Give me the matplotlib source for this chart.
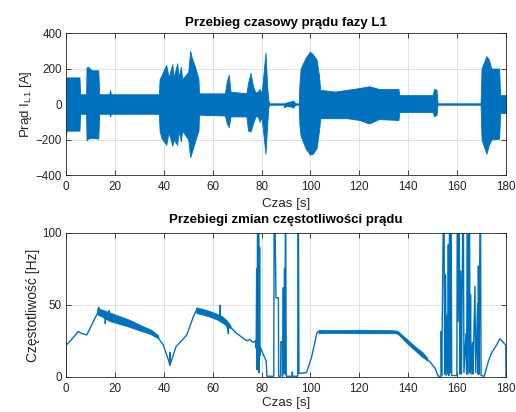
import numpy as np
import matplotlib
matplotlib.use("Agg")
import matplotlib.pyplot as plt

plt.rcParams['font.family'] = ['Liberation Sans', 'DejaVu Sans']
plt.rcParams['mathtext.default'] = 'regular'

BLUE = '#0072BD'
AXC = '#262626'

# --- Phase current L1: envelope of the oscillating signal (time [s], upper/lower [A]) ---
env_t = [0.0, 0.3, 5.5, 5.8, 8.2, 8.4, 9.0, 10.5, 13.2, 13.6, 17.7, 18.0, 18.4,
         38.0, 38.3, 39.0, 41.0, 42.0, 43.5, 44.0, 45.5, 46.0, 47.0, 47.5, 50.0,
         50.8, 51.5, 53.0, 54.2, 54.4, 65.0, 65.8, 66.6, 67.3, 73.8, 74.5, 75.5,
         76.5, 77.5, 78.5, 79.2, 80.0, 81.0, 81.6, 82.3, 82.8, 83.2, 89.0, 89.3,
         90.0, 92.0, 93.0, 93.8, 95.2, 95.5, 96.0, 98.0, 99.8, 101.0, 102.5, 103.5,
         104.0, 110.0, 115.0, 120.0, 124.0, 128.0, 136.0, 136.4, 150.0, 150.6,
         151.6, 152.0, 169.6, 170.0, 172.0, 173.0, 174.0, 177.2, 177.6, 180.0]
env_hi = [150, 150, 150, 55, 55, 205, 210, 190, 190, 55, 55, 80, 55,
          55, 140, 160, 220, 150, 225, 150, 230, 150, 210, 140, 180,
          300, 260, 200, 140, 60, 60, 130, 165, 70, 60, 120, 175,
          100, 65, 70, 85, 60, 200, 290, 100, 20, 4, 4, 4,
          8, 15, 20, 4, 4, 110, 200, 260, 295, 280, 250, 160,
          80, 70, 80, 90, 100, 85, 85, 50, 50, 85,
          80, 4, 4, 200, 270, 250, 200, 200, 50, 50]
env_lo = [-170, -150, -150, -55, -55, -205, -195, -190, -195, -55, -55, -70, -55,
          -55, -150, -190, -230, -160, -235, -200, -230, -150, -210, -150, -200,
          -300, -270, -200, -150, -60, -65, -110, -130, -70, -70, -150, -155,
          -110, -70, -70, -100, -75, -200, -280, -120, -15, -4, -4, -20,
          -10, -15, -20, -4, -4, -120, -180, -250, -285, -280, -250, -150,
          -80, -80, -80, -90, -110, -85, -90, -45, -45, -70,
          -60, -4, -4, -200, -280, -230, -200, -195, -50, -50]

# --- Current frequency [Hz] over time [s] ---
freq_t = [0.0, 0.05, 2.0, 5.0, 6.0, 8.5, 13.2, 13.4, 13.6, 16.0, 16.1, 16.2, 17.5,
          17.6, 17.7, 24.8, 31.6, 37.8, 39.8, 41.9, 42.5, 42.6, 42.7, 45.0, 49.4,
          52.1, 53.5, 58.9, 63.0, 63.1, 63.2, 65.7, 66.4, 66.5, 69.8, 73.9, 75.3,
          76.5, 77.5, 77.8, 78.0, 78.2, 78.4, 78.6, 78.8, 79.0, 79.2, 79.4, 79.6,
          81.9, 82.2, 85.0, 85.2, 85.9, 86.9, 87.0, 87.8, 87.9, 88.5, 88.6, 88.9,
          89.1, 89.4, 89.6, 89.8, 90.1, 92.5, 92.6, 92.7, 94.8, 95.0, 95.3, 98.4,
          100.5, 102.6, 103.2, 135.3, 139.4, 144.8, 148.9, 151.0, 152.3, 153.4,
          153.5, 153.7, 154.6, 154.9, 155.3, 155.5, 156.0, 156.2, 156.4, 156.6,
          157.0, 157.1, 157.5, 157.8, 159.9, 160.1, 160.4, 160.8, 161.1, 161.5,
          161.8, 162.5, 162.8, 163.6, 163.9, 164.2, 164.5, 165.0, 165.3, 165.5,
          165.7, 166.3, 166.5, 167.3, 167.6, 168.4, 168.6, 168.7, 169.0, 169.5,
          169.8, 171.1, 172.8, 174.1, 176.2, 177.5, 178.9, 179.6, 179.9, 180.0]
freq_v = [0, 22, 25.5, 31.5, 30.5, 29.2, 45.4, 48.4, 44, 43, 37, 43, 42,
          46, 41, 37.3, 32.6, 26.9, 22.2, 11.8, 8, 17, 9, 21, 29.2,
          41.9, 47, 43, 40, 49.8, 40, 37.3, 30, 36, 30.3, 25.2, 26,
          24, 25, 20, 75, 5, 150, 8, 130, 3, 90, 15, 20,
          11, 0.5, 0.5, 150, 55, 55, 0.5, 0.5, 24.5, 24.5, 0.5, 62,
          3, 75, 2, 150, 0.5, 0.5, 3.5, 0.5, 0.5, 150, 2.5, 3,
          14, 30.3, 31.5, 31, 24.5, 16.4, 10.6, 6, 0.5, 0.5,
          31.7, 1, 150, 2, 71, 1, 43, 2, 92, 1,
          150, 3, 150, 1, 1, 150, 38.7, 150, 2, 73.6,
          2, 150, 3, 30, 2, 150, 2, 150, 3, 57,
          2, 24, 2, 63, 3, 51, 2, 77, 2, 150,
          1, 0.5, 11, 16.7, 22.4, 26.6, 24, 22.7, 22, 0]

# Spread of the frequency estimate in the noisy stretches (NaN separates stretches)
nan = np.nan
spread_t = [13.0, 15.0, 18.0, 22.0, 26.0, 31.0, 35.0, 38.0, 38.1,
            53.5, 56.0, 59.0, 62.0, 64.0, 66.0, 67.5, 67.6,
            103.5, 110.0, 120.0, 130.0, 135.0, 136.0, 140.0, 144.0, 146.0, 148.0]
spread_lo = [43, 41.5, 38.5, 36.5, 34.5, 31.5, 29.5, 26.5, nan,
             44, 43, 41.5, 39.5, 37.5, 35, 33.5, nan,
             30, 30.2, 30, 30, 30, 29.5, 22.5, 16.5, 13.5, 11]
spread_hi = [47.5, 46.5, 44.5, 42, 39.5, 35.5, 32.5, 28.5, nan,
             48, 47, 45.5, 43.5, 42, 39, 35.5, nan,
             32.5, 32.3, 32.5, 32.3, 32, 31.5, 25.5, 19.5, 17, 13]

xticks = [0, 20, 40, 60, 80, 100, 120, 140, 160, 180]


def style_axes(ax):
    for s in ax.spines.values():
        s.set_color(AXC)
        s.set_linewidth(0.6)
    ax.tick_params(direction='in', length=3.5, width=0.6, colors=AXC,
                   labelsize=8.4, top=True, right=True, pad=3)
    ax.tick_params(axis='x', pad=4.2)
    ax.grid(True, color='#dcdcdc', linewidth=0.6)
    ax.set_axisbelow(True)


fig = plt.figure(figsize=(5.16, 4.12), dpi=100)
fig.patch.set_facecolor('white')

ax1 = fig.add_axes([0.1279, 0.5752, 0.8527, 0.3447])
ax1.fill_between(env_t, env_lo, env_hi, color=BLUE, linewidth=0.6, edgecolor=BLUE)
ax1.set_xlim(0, 180)
ax1.set_ylim(-400, 400)
ax1.set_xticks(xticks)
ax1.set_yticks([-400, -200, 0, 200, 400])
style_axes(ax1)
ax1.set_title('Przebieg czasowy prądu fazy L1', fontsize=9.5, fontweight='bold',
              color='black', pad=4.7)
ax1.set_xlabel('Czas [s]', fontsize=9.6, color=AXC)
ax1.xaxis.set_label_coords(0.5, -0.165)
ax1.set_ylabel('Prąd I$_{L1}$ [A]', fontsize=9.6, color=AXC, labelpad=1)

ax2 = fig.add_axes([0.1279, 0.0850, 0.8527, 0.3495])
ax2.fill_between(spread_t, spread_lo, spread_hi, color=BLUE, linewidth=0.5,
                 edgecolor=BLUE)
ax2.plot(freq_t, freq_v, color=BLUE, linewidth=1.0)
ax2.set_xlim(0, 180)
ax2.set_ylim(0, 100)
ax2.set_xticks(xticks)
ax2.set_yticks([0, 50, 100])
style_axes(ax2)
ax2.set_title('Przebiegi zmian częstotliwości prądu', fontsize=9.5,
              fontweight='bold', color='black', pad=7.3)
ax2.set_xlabel('Czas [s]', fontsize=9.6, color=AXC)
ax2.xaxis.set_label_coords(0.5, -0.14)
ax2.set_ylabel('Częstotliwość [Hz]', fontsize=10, color=AXC, labelpad=2)

fig.savefig('out.png', dpi=100, facecolor='white')
